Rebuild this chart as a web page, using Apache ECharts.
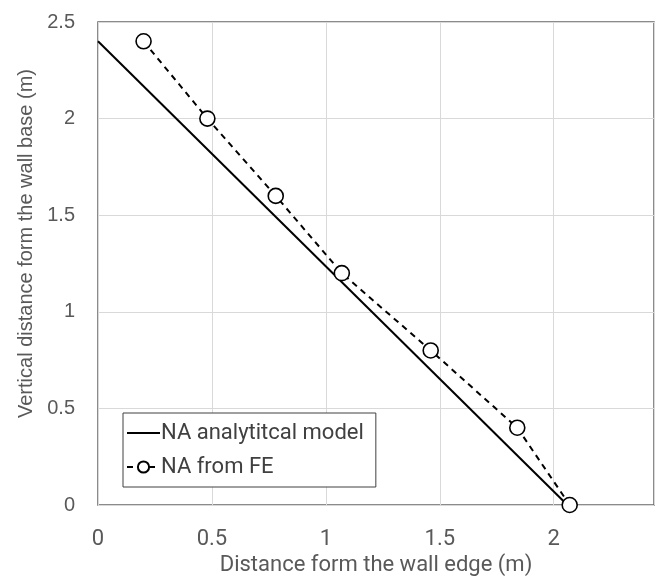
<!DOCTYPE html>
<html>
<head>
<meta charset="utf-8">
<script src="https://cdn.jsdelivr.net/npm/echarts@6/dist/echarts.min.js"></script>
<style>
html,body{margin:0;padding:0;background:#fff;}
#chart{width:657px;height:582px;}
</style>
</head>
<body>
<div id="chart"></div>
<script>
// Data
var analyticX = [0, 2.06];
var analyticY = [2.4, 0];
var feX = [0.2, 0.48, 0.78, 1.07, 1.46, 1.84, 2.07];
var feY = [2.4, 2.0, 1.6, 1.2, 0.8, 0.4, 0];
var seriesNames = ['NA analytitcal model', 'NA from FE'];
var xTitle = 'Distance form the wall edge (m)';
var yTitle = 'Vertical distance form the wall base (m)';

function pairs(xs, ys) { return xs.map(function (x, i) { return [x, ys[i]]; }); }

var NARROW = '"Liberation Sans Narrow", "Roboto", sans-serif';
var ARIAL = '"Liberation Sans", Arial, sans-serif';
var chart = echarts.init(document.getElementById('chart'), null, {renderer: 'canvas'});
chart.setOption({
  animation: false,
  backgroundColor: '#ffffff',
  grid: {
    left: 98, top: 22, right: 2, bottom: 77,
    show: true, borderColor: '#666666', borderWidth: 1.5, backgroundColor: 'transparent'
  },
  legend: {
    orient: 'vertical',
    left: 123, top: 413,
    backgroundColor: '#ffffff',
    borderColor: '#404040', borderWidth: 1,
    padding: [9, 12, 9, 3],
    itemGap: 12,
    itemWidth: 33, itemHeight: 14,
    textStyle: {fontFamily: NARROW, fontSize: 22, color: '#404040', padding: [0, 0, 0, -4]},
    data: [
      {name: seriesNames[0], icon: 'path://M0,0H33V2H0Z', itemStyle: {color: '#000000'}},
      {name: seriesNames[1]}
    ]
  },
  xAxis: {
    type: 'value', min: 0, max: 2.44, interval: 0.5,
    name: xTitle, nameLocation: 'middle', nameGap: 47,
    nameTextStyle: {fontFamily: NARROW, fontSize: 22, color: '#595959'},
    axisLine: {show: false}, axisTick: {show: false},
    axisLabel: {
      fontFamily: NARROW, fontSize: 22, color: '#595959', margin: 23,
      formatter: function (v) { return Math.abs(v / 0.5 - Math.round(v / 0.5)) < 1e-6 ? String(v) : ''; }
    },
    splitLine: {show: true, lineStyle: {color: '#d9d9d9', width: 1}}
  },
  yAxis: {
    type: 'value', min: 0, max: 2.5, interval: 0.5,
    name: yTitle, nameLocation: 'middle', nameGap: 60, nameRotate: 90,
    nameTextStyle: {fontFamily: ARIAL, fontSize: 20, color: '#595959', padding: [0, 0, 0, 40]},
    axisLine: {show: false}, axisTick: {show: false},
    axisLabel: {fontFamily: ARIAL, fontSize: 20, color: '#595959', margin: 23},
    splitLine: {show: true, lineStyle: {color: '#d9d9d9', width: 1}}
  },
  series: [
    {
      name: seriesNames[0], type: 'line',
      data: pairs(analyticX, analyticY),
      symbol: 'none',
      lineStyle: {color: '#000000', width: 2},
      itemStyle: {color: '#000000'}
    },
    {
      name: seriesNames[1], type: 'line',
      data: pairs(feX, feY),
      symbol: 'circle', symbolSize: 15,
      lineStyle: {color: '#000000', width: 2, type: [6, 5]},
      itemStyle: {color: '#ffffff', borderColor: '#000000', borderWidth: 1.6}
    }
  ]
});
</script>
</body>
</html>
